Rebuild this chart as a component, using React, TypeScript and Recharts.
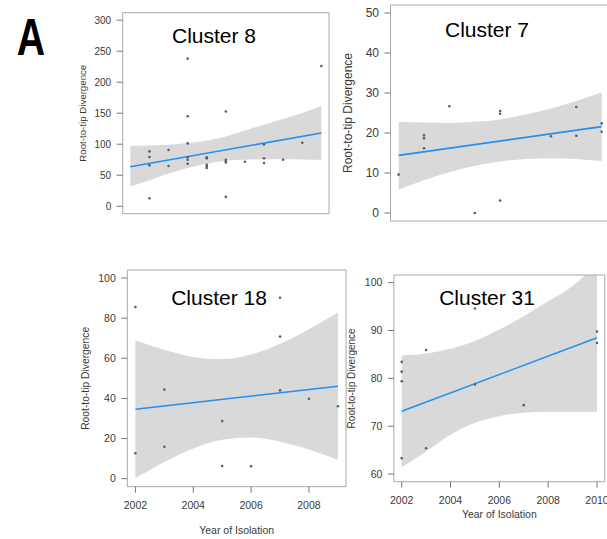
import React from 'react';
import { ComposedChart, Area, Line, Scatter, XAxis, YAxis, ReferenceArea } from 'recharts';

const FONT = '"Liberation Sans", Arial, Helvetica, sans-serif';

// Cluster 8
const band8 = [
  { year: 2001, v: [31.7, 97.6] },
  { year: 2002, v: [41.8, 98] },
  { year: 2003, v: [52.6, 99.2] },
  { year: 2004, v: [61.7, 101.9] },
  { year: 2005, v: [68.6, 105.6] },
  { year: 2006, v: [73.5, 112.5] },
  { year: 2007, v: [75, 122.2] },
  { year: 2008, v: [75.8, 131.4] },
  { year: 2009, v: [75.8, 140.5] },
  { year: 2010, v: [75.5, 150.2] },
  { year: 2011, v: [75, 161.9] },
];
const fit8 = [{ year: 2001, v: 63.8 }, { year: 2011, v: 118 }];
const pts8 = [
  { year: 2002, v: 88.4 }, { year: 2002, v: 79.4 }, { year: 2002, v: 65.9 }, { year: 2002, v: 12.9 },
  { year: 2003, v: 90.6 }, { year: 2003, v: 64.9 },
  { year: 2004, v: 238 }, { year: 2004, v: 145.2 }, { year: 2004, v: 101.3 }, { year: 2004, v: 78.8 },
  { year: 2004, v: 74.9 }, { year: 2004, v: 68.5 },
  { year: 2005, v: 78.8 }, { year: 2005, v: 77.2 }, { year: 2005, v: 66.9 }, { year: 2005, v: 64.3 }, { year: 2005, v: 61.6 },
  { year: 2006, v: 152.7 }, { year: 2006, v: 74.9 }, { year: 2006, v: 72.8 }, { year: 2006, v: 70.7 }, { year: 2006, v: 15.1 },
  { year: 2007, v: 71.7 },
  { year: 2008, v: 99.5 }, { year: 2008, v: 77.2 }, { year: 2008, v: 69.6 },
  { year: 2009, v: 74.9 },
  { year: 2010, v: 102.3 },
  { year: 2011, v: 226.2 },
];

// Cluster 7
const band7 = [
  { year: 2001, v: [5.9, 22.8] },
  { year: 2002, v: [8.2, 22.6] },
  { year: 2003, v: [10.2, 22.5] },
  { year: 2004, v: [11.8, 22.8] },
  { year: 2005, v: [12.9, 23.4] },
  { year: 2006, v: [13.5, 24.6] },
  { year: 2007, v: [13.7, 26.1] },
  { year: 2008, v: [13.5, 28] },
  { year: 2009, v: [13, 30.1] },
];
const fit7 = [{ year: 2001, v: 14.4 }, { year: 2009, v: 21.6 }];
const pts7 = [
  { year: 2001, v: 9.6 },
  { year: 2002, v: 19.4 }, { year: 2002, v: 18.7 }, { year: 2002, v: 16.2 },
  { year: 2003, v: 26.7 },
  { year: 2004, v: 0 },
  { year: 2005, v: 25.5 }, { year: 2005, v: 24.8 }, { year: 2005, v: 3.1 },
  { year: 2007, v: 19.2 },
  { year: 2008, v: 26.5 }, { year: 2008, v: 19.3 },
  { year: 2009, v: 22.4 }, { year: 2009, v: 20.3 },
];

// Cluster 18
const band18 = [
  { year: 2002, v: [0.2, 69] },
  { year: 2003, v: [8.3, 64.2] },
  { year: 2004, v: [15.1, 60.7] },
  { year: 2005, v: [19.4, 59.6] },
  { year: 2006, v: [20.5, 61.9] },
  { year: 2007, v: [18.4, 67.2] },
  { year: 2008, v: [14.5, 74.5] },
  { year: 2009, v: [9.4, 82.8] },
];
const fit18 = [{ year: 2002, v: 34.6 }, { year: 2009, v: 46.1 }];
const pts18 = [
  { year: 2002, v: 85.5 }, { year: 2002, v: 12.7 },
  { year: 2003, v: 44.4 }, { year: 2003, v: 15.9 },
  { year: 2005, v: 28.7 }, { year: 2005, v: 6.3 },
  { year: 2006, v: 6.2 },
  { year: 2007, v: 90.2 }, { year: 2007, v: 70.8 }, { year: 2007, v: 44 },
  { year: 2008, v: 39.8 },
  { year: 2009, v: 36.1 },
];

// Cluster 31
const band31 = [
  { year: 2002, v: [61.4, 84.8] },
  { year: 2003, v: [64.7, 85.2] },
  { year: 2004, v: [68.2, 86.2] },
  { year: 2005, v: [70.7, 87.8] },
  { year: 2006, v: [72.1, 90.2] },
  { year: 2007, v: [72.8, 93] },
  { year: 2008, v: [73, 96.1] },
  { year: 2009, v: [73, 99.3] },
  { year: 2010, v: [73, 104] },
];
const fit31 = [{ year: 2002, v: 73.1 }, { year: 2010, v: 88.5 }];
const pts31 = [
  { year: 2002, v: 83.45 }, { year: 2002, v: 81.4 }, { year: 2002, v: 79.4 }, { year: 2002, v: 63.3 },
  { year: 2003, v: 85.9 }, { year: 2003, v: 65.4 },
  { year: 2005, v: 94.6 }, { year: 2005, v: 78.7 },
  { year: 2007, v: 74.4 },
  { year: 2010, v: 89.8 }, { year: 2010, v: 87.4 },
];

const Dot = (props: any) => <circle cx={props.cx} cy={props.cy} r={1.3} fill="#5e5e5e" />;

const Panel = (p: any) => (
  <div style={{ position: 'absolute', left: 0, top: 0 }}>
    <ComposedChart width={612} height={539} margin={p.margin}>
      <XAxis
        type="number"
        dataKey="year"
        domain={p.xDomain}
        ticks={p.xTicks}
        interval={0}
        allowDataOverflow
        axisLine={false}
        tickLine={{ stroke: '#777' }}
        tickSize={6}
        tickMargin={p.xTickMargin || 2}
        height={p.xHeight}
        tick={p.showX ? { fill: '#3a3a3a', fontSize: 10.5, fontFamily: FONT } : false}
        label={p.showX ? { value: 'Year of Isolation', position: 'insideBottom', offset: 0, fill: '#3a3a3a', fontSize: 10.5, fontFamily: FONT } : undefined}
      />
      <YAxis
        type="number"
        dataKey="v"
        domain={p.yDomain}
        ticks={p.yTicks}
        interval={0}
        allowDataOverflow
        width={50}
        axisLine={false}
        tickLine={{ stroke: '#777' }}
        tickSize={6}
        tickMargin={5.5}
        tick={{ fill: '#3a3a3a', fontSize: p.tickFont, fontFamily: FONT }}
        label={{
          value: 'Root-to-tip Divergence',
          angle: -90,
          position: 'insideLeft',
          offset: p.yLabelOffset,
          fill: '#3a3a3a',
          fontSize: p.labelFont,
          fontFamily: FONT,
          style: { textAnchor: 'middle' },
        }}
      />
      <Area data={p.band} dataKey="v" type="monotone" stroke="none" fill="#d9d9d9" fillOpacity={1} isAnimationActive={false} />
      <Line data={p.fit} dataKey="v" stroke="#2390f0" strokeWidth={1.6} dot={false} isAnimationActive={false} />
      <Scatter data={p.pts} dataKey="v" shape={Dot} isAnimationActive={false} />
      <ReferenceArea
        x1={p.xDomain[0]}
        x2={p.xDomain[1]}
        y1={p.yDomain[0]}
        y2={p.yDomain[1]}
        fill="none"
        stroke="#a8a8a8"
        strokeWidth={1}
      />
    </ComposedChart>
  </div>
);

export default function App() {
  return (
    <div style={{ position: 'absolute', left: 0, top: 0, width: 607, height: 539, overflow: 'hidden', background: '#fff' }}>
      <Panel
        band={band8} fit={fit8} pts={pts8}
        xDomain={[2000.6, 2011.4]} xTicks={[2002, 2004, 2006, 2008, 2010]}
        yDomain={[-12, 312]} yTicks={[0, 50, 100, 150, 200, 250, 300]}
        margin={{ left: 72.7, right: 283, top: 12.7, bottom: 315.3 }}
        xHeight={10} showX={false}
        tickFont={10} labelFont={9.7} yLabelOffset={9.5}
      />
      <Panel
        band={band7} fit={fit7} pts={pts7}
        xDomain={[2000.68, 2009.32]} xTicks={[2002, 2004, 2006, 2008]}
        yDomain={[-2, 52]} yTicks={[0, 10, 20, 30, 40, 50]}
        margin={{ left: 340.5, right: 2.2, top: 5, bottom: 308 }}
        xHeight={10} showX={false}
        tickFont={12} labelFont={12} yLabelOffset={7}
      />
      <Panel
        band={band18} fit={fit18} pts={pts18}
        xDomain={[2001.72, 2009.28]} xTicks={[2002, 2004, 2006, 2008]}
        yDomain={[-4, 104]} yTicks={[0, 20, 40, 60, 80, 100]}
        margin={{ left: 77.3, right: 266, top: 270, bottom: 5 }}
        xHeight={47.3} showX xTickMargin={9.3}
        tickFont={10.5} labelFont={10.3} yLabelOffset={7.7}
      />
      <Panel
        band={band31} fit={fit31} pts={pts31}
        xDomain={[2001.68, 2010.32]} xTicks={[2002, 2004, 2006, 2008, 2010]}
        yDomain={[58.4, 101.6]} yTicks={[60, 70, 80, 90, 100]}
        margin={{ left: 343.9, right: 7.2, top: 275, bottom: 20.7 }}
        xHeight={36.6} showX xTickMargin={8.8}
        tickFont={10.5} labelFont={10} yLabelOffset={7.6}
      />
      <svg width={607} height={539} style={{ position: 'absolute', left: 0, top: 0, pointerEvents: 'none' }}>
        <text transform="translate(16.7,55) scale(0.77,1)" fontSize={51} fontWeight="bold" fontFamily={FONT} fill="#000">A</text>
        <text x={214} y={42.7} textAnchor="middle" fontSize={21} fontFamily={FONT} fill="#000">Cluster 8</text>
        <text x={487} y={36.7} textAnchor="middle" fontSize={21} fontFamily={FONT} fill="#000">Cluster 7</text>
        <text x={219} y={305} textAnchor="middle" fontSize={21} fontFamily={FONT} fill="#000">Cluster 18</text>
        <text x={487} y={305} textAnchor="middle" fontSize={21} fontFamily={FONT} fill="#000">Cluster 31</text>
      </svg>
    </div>
  );
}
